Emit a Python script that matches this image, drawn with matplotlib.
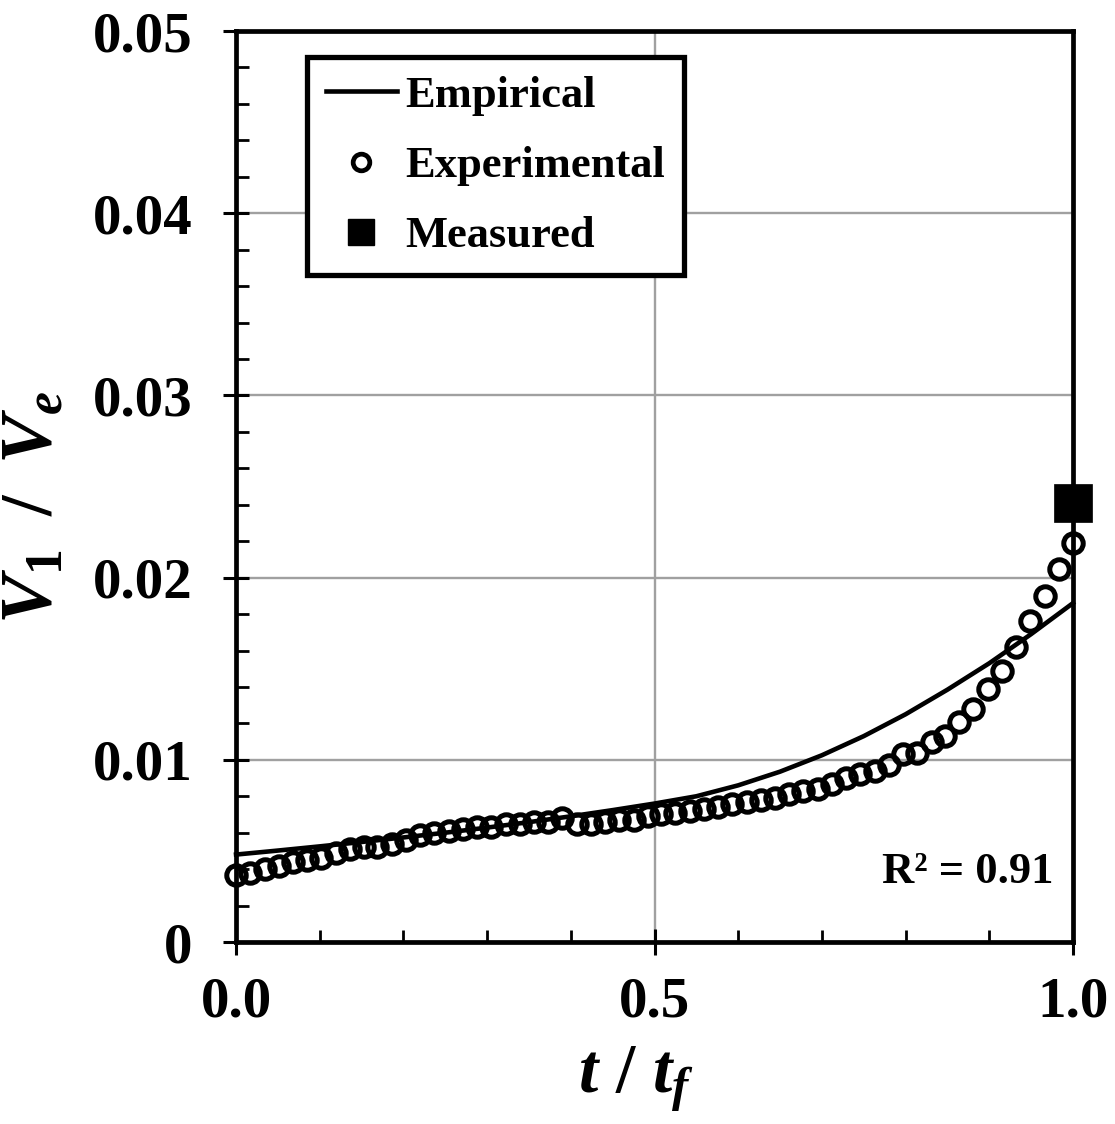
import matplotlib
matplotlib.use("Agg")
import matplotlib.pyplot as plt
from matplotlib.lines import Line2D
from matplotlib.ticker import MultipleLocator

# experimental points (t/tf, V1/Ve)
exp_x = [0.000, 0.017, 0.034, 0.051, 0.068, 0.085, 0.102, 0.119, 0.136, 0.153,
         0.169, 0.186, 0.203, 0.220, 0.237, 0.254, 0.271, 0.288, 0.305, 0.322,
         0.339, 0.356, 0.373, 0.390, 0.407, 0.424, 0.441, 0.458, 0.475, 0.492,
         0.508, 0.525, 0.542, 0.559, 0.576, 0.593, 0.610, 0.627, 0.644, 0.661,
         0.678, 0.695, 0.712, 0.729, 0.746, 0.763, 0.780, 0.797, 0.814, 0.831,
         0.847, 0.864, 0.881, 0.898, 0.915, 0.932, 0.949, 0.966, 0.983, 1.000]
exp_y = [0.0037, 0.0038, 0.0040, 0.0042, 0.0044, 0.0045, 0.0046, 0.0049, 0.0051, 0.0052,
         0.0052, 0.0054, 0.0056, 0.0059, 0.0060, 0.0061, 0.0062, 0.0063, 0.0063, 0.0065,
         0.0065, 0.0066, 0.0066, 0.0068, 0.0065, 0.0065, 0.0066, 0.0067, 0.0067, 0.0069,
         0.0070, 0.0071, 0.0072, 0.0073, 0.0074, 0.0076, 0.0077, 0.0078, 0.0079, 0.0081,
         0.0083, 0.0084, 0.0087, 0.0090, 0.0092, 0.0094, 0.0097, 0.0103, 0.0104, 0.0110,
         0.0113, 0.0121, 0.0128, 0.0139, 0.0149, 0.0162, 0.0176, 0.0190, 0.0205, 0.0219]

# empirical curve
emp_x = [0.00, 0.05, 0.10, 0.15, 0.20, 0.25, 0.30, 0.35, 0.40, 0.45, 0.50,
         0.55, 0.60, 0.65, 0.70, 0.75, 0.80, 0.85, 0.90, 0.95, 1.00]
emp_y = [0.00480, 0.00502, 0.00525, 0.00549, 0.00574, 0.00600, 0.00628, 0.00658, 0.00690, 0.00724, 0.00760,
         0.00800, 0.00860, 0.00935, 0.01025, 0.01130, 0.01250, 0.01385, 0.01530, 0.01690, 0.01860]

# measured value at end
meas_x = [1.0]
meas_y = [0.0241]

r2_text = "R\u00b2 = 0.91"

plt.rcParams["font.family"] = ["Liberation Serif", "DejaVu Serif"]
plt.rcParams["font.weight"] = "bold"
plt.rcParams["mathtext.fontset"] = "custom"
plt.rcParams["mathtext.rm"] = "Liberation Serif:bold"
plt.rcParams["mathtext.it"] = "Liberation Serif:italic:bold"
plt.rcParams["mathtext.bf"] = "Liberation Serif:bold"

fig = plt.figure(figsize=(11.15, 11.24), dpi=100)
ax = fig.add_axes([0.2117, 0.1619, 0.7506, 0.8105])

ax.plot(emp_x, emp_y, color="black", lw=3.3, zorder=3, clip_on=False,
        solid_joinstyle="round")
ax.plot(exp_x, exp_y, ls="none", marker="o", ms=14, mew=3.6,
        mfc="none", mec="black", zorder=4, clip_on=False)
ax.plot(meas_x, meas_y, ls="none", marker="s", ms=27, mew=0.5,
        color="black", zorder=5, clip_on=False)

ax.set_xlim(0, 1.0)
ax.set_ylim(0, 0.05)
ax.xaxis.set_minor_locator(MultipleLocator(0.1))
ax.yaxis.set_minor_locator(MultipleLocator(0.002))
ax.set_xticks([0, 0.5, 1.0])
ax.set_xticklabels(["0.0", "0.5", "1.0"])
ax.set_yticks([0, 0.01, 0.02, 0.03, 0.04, 0.05])
ax.set_yticklabels(["0", "0.01", "0.02", "0.03", "0.04", "0.05"])

ax.grid(True, which="major", color="#a0a0a0", lw=1.7, zorder=0)
ax.set_axisbelow(True)

ax.tick_params(which="major", direction="inout", length=19, width=2.2,
               labelsize=41, pad=15)
ax.tick_params(which="minor", direction="in", length=9, width=2.0)
ax.tick_params(axis="y", which="major", pad=22)
for s in ax.spines.values():
    s.set_linewidth(3.4)
    s.set_zorder(4.5)

ax.set_xlabel(r"$t\ /\ t_f$", fontsize=50)
ax.xaxis.set_label_coords(0.478, -0.113)
ax.set_ylabel(r"$V_{\mathit{1}}\;\;/\;\;V_e$", fontsize=53)
ax.yaxis.set_label_coords(-0.2, 0.477)

ax.text(0.977, 0.077, r2_text, transform=ax.transAxes, ha="right", va="center",
        fontsize=32, fontweight="bold")

handles = [
    Line2D([], [], color="black", lw=3.3),
    Line2D([], [], ls="none", marker="o", ms=12, mew=3.4, mfc="none", mec="black"),
    Line2D([], [], ls="none", marker="s", ms=19, color="black"),
]
leg = ax.legend(handles, ["Empirical", "Experimental", "Measured"],
                loc="upper left", bbox_to_anchor=(0.0848, 0.9715), borderaxespad=0,
                fontsize=32, frameon=True, fancybox=False, edgecolor="black",
                framealpha=1, handlelength=1.6, handletextpad=0.2,
                labelspacing=0.68, borderpad=0.42)
leg.get_frame().set_linewidth(3.8)
leg.set_zorder(6)

fig.savefig("out.png", dpi=100)
